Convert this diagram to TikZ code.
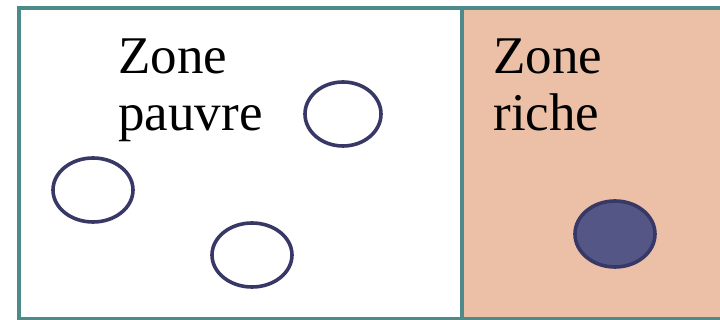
\documentclass[tikz,border=0pt]{standalone}
\usepackage{fontspec}
\setmainfont{Liberation Serif}
\definecolor{teal1}{HTML}{4F8A8B}
\definecolor{peach}{HTML}{EBC0A7}
\definecolor{navy1}{HTML}{383866}
\definecolor{navyfill}{HTML}{545685}
\begin{document}
\begin{tikzpicture}[x=0.5pt,y=-0.5pt,
  zonebox/.style={draw=teal1,line width=2pt},
  zonelabel/.style={anchor=north west,inner sep=0pt,align=left,font=\fontsize{26.5}{28.5}\selectfont},
  particle/.style={draw=navy1,line width=1.8pt}]
\useasboundingbox (0,0) rectangle (720,320);
\begin{scope}
\clip (0,0) rectangle (720,320);
\draw[zonebox,fill=peach] (462,8) rectangle (730,319);
\draw[zonebox,fill=white] (19,8) rectangle (462,319);
\end{scope}
\node[zonelabel] (pauvre) at (118,38) {Zone\\pauvre};
\node[zonelabel] (riche) at (493,38) {Zone\\riche};
\draw[particle] (343,114) ellipse [x radius=38,y radius=32];
\draw[particle] (93,190) ellipse [x radius=40,y radius=32];
\draw[particle] (252,255) ellipse [x radius=40,y radius=32];
\draw[particle,fill=navyfill] (615,234) ellipse [x radius=40,y radius=33];
\end{tikzpicture}
\end{document}
